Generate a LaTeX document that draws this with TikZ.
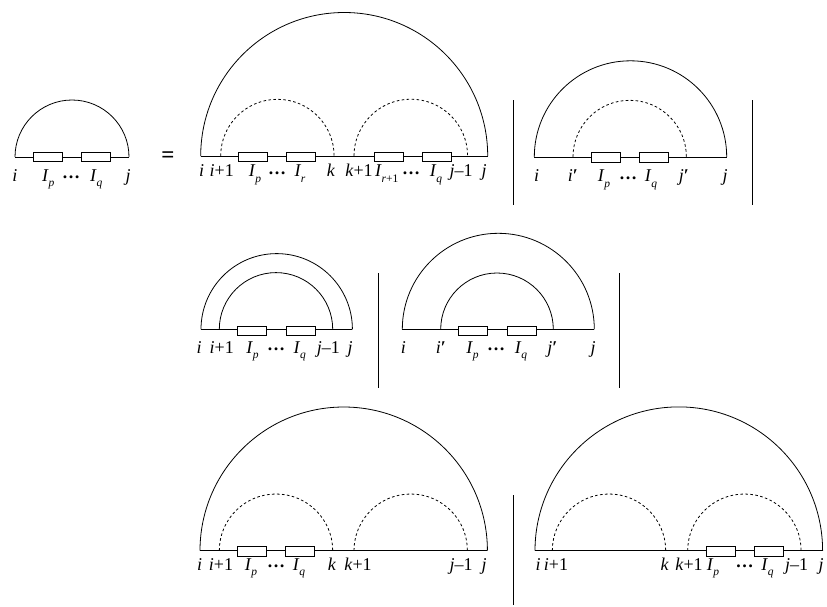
\documentclass[tikz,border=0pt]{standalone}
\usepackage{fontspec}
\setmainfont{Liberation Serif}
\usetikzlibrary{positioning}

\newcommand{\Isb}[1]{\textit{I}\kern-0.3pt\raisebox{-5.5pt}{\fontsize{11.5}{12}\selectfont #1}}
\newcommand{\dts}{\raisebox{2.5pt}{\textbf{…}}}
\newcommand{\prm}{\textbf{′}}

\begin{document}
\begin{tikzpicture}[
        x=1pt, y=-1pt,
        line width=0.8pt,
        box/.style={draw, fill=white, minimum width=29pt, minimum height=9.3pt, inner sep=0pt, line width=0.7pt},
        lab/.style={anchor=base, inner sep=0pt, font=\fontsize{18}{21}\selectfont},
        dsh/.style={dash pattern=on 2.6pt off 2.4pt},
        bar/.style={line width=0.9pt},
    ]
    \useasboundingbox (0,0) rectangle (827,606);

    % Left side
    \coordinate (al) at (15,157);
    \coordinate (ar) at (129,157);
    \draw (al) arc[start angle=180, end angle=0, radius=57pt];
    \draw (al) -- (ar);
    \node[box] (ab1) at (48,157) {};
    \node[box, right=18pt of ab1] (ab2) {};
    \node[lab] (ai) at (15,181) {\textit{i}};
    \node[lab] (aip) at (48.3,181) {\Isb{\textit{p}}};
    \node[lab] (ad) at (71,181) {\dts};
    \node[lab] (aiq) at (96.3,181) {\Isb{\textit{q}}};
    \node[lab] (aj) at (128,181) {\textit{j}};
    \node[lab, font=\fontsize{23}{25}\selectfont] (eq) at (168,162.8) {\textbf{=}};

    % Top: split at k
    \coordinate (bl) at (200.7,156);
    \coordinate (br) at (487.7,156);
    \coordinate (bi1) at (220.7,156);
    \coordinate (bk1) at (354,156);
    \draw (bl) arc[start angle=180, end angle=0, radius=143.5pt];
    \draw[dsh] (bi1) arc[start angle=180, end angle=0, radius=56.7pt];
    \draw[dsh] (bk1) arc[start angle=180, end angle=0, radius=56.8pt];
    \draw (bl) -- (br);
    \node[box] (bb1) at (253.2,156.6) {};
    \node[box, right=18.3pt of bb1] (bb2) {};
    \node[box] (bb3) at (388.8,156.6) {};
    \node[box, right=18.3pt of bb3] (bb4) {};
    \node[lab] (bi) at (201.7,176.7) {\textit{i}};
    \node[lab] (bip) at (221.7,176.7) {\textit{i}+1};
    \node[lab] (bIp) at (255,176.7) {\Isb{\textit{p}}};
    \node[lab] (bd1) at (277,176.7) {\dts};
    \node[lab] (bIr) at (300,176.7) {\Isb{\textit{r}}};
    \node[lab] (bk) at (331,176.7) {\textit{k}};
    \node[lab] (bkp) at (359,176.7) {\textit{k}+1};
    \node[lab] (bIr1) at (386.7,176.7) {\Isb{\textit{r}+1}};
    \node[lab] (bd2) at (411,176.7) {\dts};
    \node[lab] (bIq) at (436,176.7) {\Isb{\textit{q}}};
    \node[lab] (bjm) at (461,176.7) {\textit{j}–1};
    \node[lab] (bj) at (484,176.7) {\textit{j}};

    % Top: inner pair i', j'
    \coordinate (cl) at (534.3,157);
    \coordinate (cr) at (726.7,157);
    \coordinate (cip) at (573,157);
    \draw (cl) arc[start angle=180, end angle=0, radius=96.2pt];
    \draw[dsh] (cip) arc[start angle=180, end angle=0, radius=56.7pt];
    \draw (cl) -- (cr);
    \node[box] (cb1) at (605.7,157.3) {};
    \node[box, right=18.5pt of cb1] (cb2) {};
    \node[lab] (ci) at (536.7,181.7) {\textit{i}};
    \node[lab] (cip') at (573,181.7) {\textit{i}\prm};
    \node[lab] (cIp) at (604,181.7) {\Isb{\textit{p}}};
    \node[lab] (cd) at (628,181.7) {\dts};
    \node[lab] (cIq) at (651,181.7) {\Isb{\textit{q}}};
    \node[lab] (cjp) at (684,181.7) {\textit{j}\prm};
    \node[lab] (cj) at (725,181.7) {\textit{j}};

    % Middle: i+1, j-1 paired
    \coordinate (dl) at (201,329.3);
    \coordinate (dr) at (352.4,329.3);
    \coordinate (di1) at (219.3,329.3);
    \draw (dl) arc[start angle=180, end angle=0, radius=75.7pt];
    \draw (di1) arc[start angle=180, end angle=0, radius=56.7pt];
    \draw (dl) -- (dr);
    \node[box] (db1) at (252.2,330.5) {};
    \node[box, right=18.6pt of db1] (db2) {};
    \node[lab] (di) at (199,353.3) {\textit{i}};
    \node[lab] (dip) at (221.7,353.3) {\textit{i}+1};
    \node[lab] (dIp) at (252.5,353.3) {\Isb{\textit{p}}};
    \node[lab] (dd) at (276,353.3) {\dts};
    \node[lab] (dIq) at (299.7,353.3) {\Isb{\textit{q}}};
    \node[lab] (djm) at (328.3,353.3) {\textit{j}–1};
    \node[lab] (dj) at (350,353.3) {\textit{j}};

    % Middle: i', j' paired
    \coordinate (el) at (402.3,329.3);
    \coordinate (er) at (594.3,329.3);
    \coordinate (eip) at (440.7,329.3);
    \draw (el) arc[start angle=180, end angle=0, radius=96pt];
    \draw (eip) arc[start angle=180, end angle=0, radius=56.3pt];
    \draw (el) -- (er);
    \node[box] (eb1) at (473.3,330.5) {};
    \node[box, right=18.7pt of eb1] (eb2) {};
    \node[lab] (ei) at (403.3,353.3) {\textit{i}};
    \node[lab] (eip') at (441,353.3) {\textit{i}\prm};
    \node[lab] (eIp) at (472.5,353.3) {\Isb{\textit{p}}};
    \node[lab] (ed) at (496,353.3) {\dts};
    \node[lab] (eIq) at (521,353.3) {\Isb{\textit{q}}};
    \node[lab] (ejp) at (552.5,353.3) {\textit{j}\prm};
    \node[lab] (ej) at (593,353.3) {\textit{j}};

    % Bottom: boxes left of k
    \coordinate (fl) at (200,550.7);
    \coordinate (fr) at (487.4,550.7);
    \coordinate (fi1) at (219.3,550.7);
    \coordinate (fk1) at (354,550.7);
    \draw (fl) arc[start angle=180, end angle=0, radius=143.7pt];
    \draw[dsh] (fi1) arc[start angle=180, end angle=0, radius=56.7pt];
    \draw[dsh] (fk1) arc[start angle=180, end angle=0, radius=56.7pt];
    \draw (fl) -- (fr);
    \node[box] (fb1) at (251.8,551.3) {};
    \node[box, right=18.4pt of fb1] (fb2) {};
    \node[lab] (fi) at (199.7,570) {\textit{i}};
    \node[lab] (fip) at (221,570) {\textit{i}+1};
    \node[lab] (fIp) at (251,570) {\Isb{\textit{p}}};
    \node[lab] (fd) at (276,570) {\dts};
    \node[lab] (fIq) at (299,570) {\Isb{\textit{q}}};
    \node[lab] (fk) at (332,570) {\textit{k}};
    \node[lab] (fkp) at (358,570) {\textit{k}+1};
    \node[lab] (fjm) at (461,570) {\textit{j}–1};
    \node[lab] (fj) at (484,570) {\textit{j}};

    % Bottom: boxes right of k+1
    \coordinate (gl) at (535,550.7);
    \coordinate (gr) at (822.6,550.7);
    \coordinate (gi1) at (552.3,550.7);
    \coordinate (gk1) at (687.7,550.7);
    \draw (gl) arc[start angle=180, end angle=0, radius=143.8pt];
    \draw[dsh] (gi1) arc[start angle=180, end angle=0, radius=56.7pt];
    \draw[dsh] (gk1) arc[start angle=180, end angle=0, radius=56.7pt];
    \draw (gl) -- (gr);
    \node[box] (gb1) at (721,551.3) {};
    \node[box, right=18.3pt of gb1] (gb2) {};
    \node[lab] (gi) at (538,570) {\textit{i}};
    \node[lab] (gip) at (556,570) {\textit{i}+1};
    \node[lab] (gk) at (664.7,570) {\textit{k}};
    \node[lab] (gkp) at (689,570) {\textit{k}+1};
    \node[lab] (gIp) at (713,570) {\Isb{\textit{p}}};
    \node[lab] (gd) at (744.7,570) {\dts};
    \node[lab] (gIq) at (767.5,570) {\Isb{\textit{q}}};
    \node[lab] (gjm) at (796.7,570) {\textit{j}–1};
    \node[lab] (gj) at (821,570) {\textit{j}};

    % Separators
    \coordinate (s1a) at (513.3,100);  \coordinate (s1b) at (513.3,205);
    \coordinate (s2a) at (752.3,100);  \coordinate (s2b) at (752.3,205);
    \coordinate (s3a) at (378.3,273.3); \coordinate (s3b) at (378.3,388.3);
    \coordinate (s4a) at (619.3,273.3); \coordinate (s4b) at (619.3,388.3);
    \coordinate (s5a) at (513.3,495);  \coordinate (s5b) at (513.3,605);
    \draw[bar] (s1a) -- (s1b);
    \draw[bar] (s2a) -- (s2b);
    \draw[bar] (s3a) -- (s3b);
    \draw[bar] (s4a) -- (s4b);
    \draw[bar] (s5a) -- (s5b);

\end{tikzpicture}
\end{document}
